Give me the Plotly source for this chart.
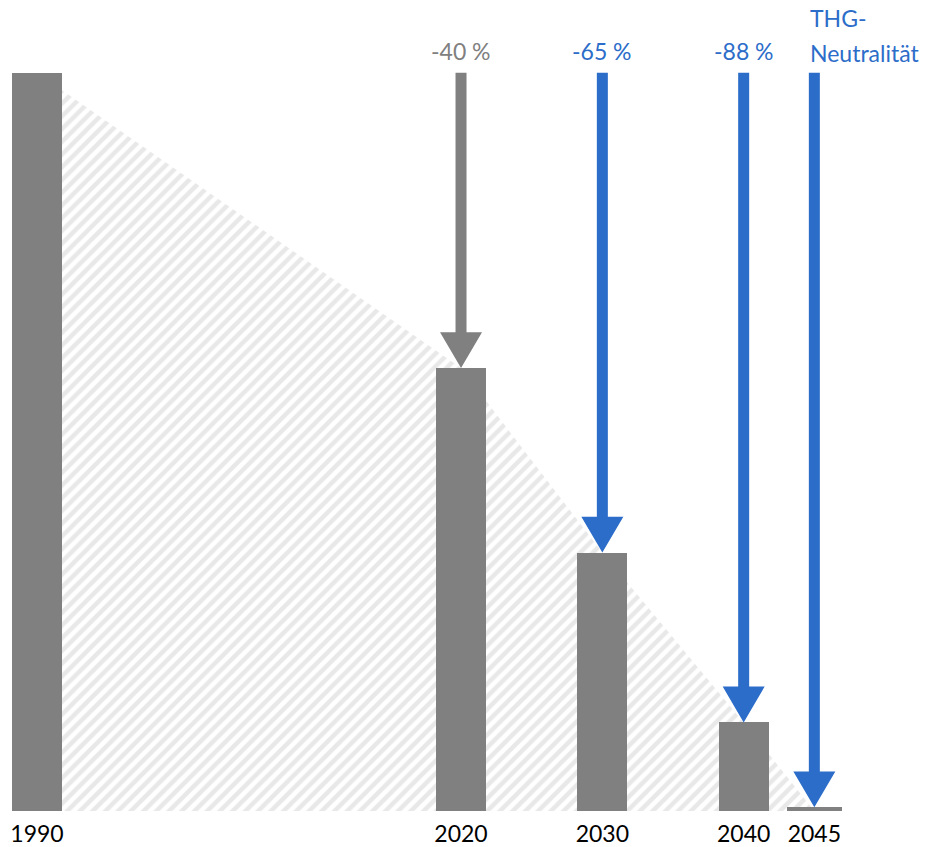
import plotly.graph_objects as go

# ---- data ----
years = [1990, 2020, 2030, 2040, 2045]
emissions = [100, 60, 35, 12, 0.5]          # % of 1990 level
tick_labels = ["1990", "2020", "2030", "2040", "2045"]
target_years = [2020, 2030, 2040, 2045]
target_values = [60, 35, 12, 0.5]
target_labels = ["-40 %", "-65 %", "-88 %", "THG-<br>Neutralität"]

# ---- style ----
GRAY = "#808080"
BLUE = "#2C6DC9"
target_colors = [GRAY, BLUE, BLUE, BLUE]
bar_widths = [3.54, 3.54, 3.54, 3.54, 3.9]
FONT = "Lato"

W, H = 925, 847
X0, X1 = 1987.38, 2052.83
Y0, Y1 = 0, 109.85
px_x = (X1 - X0) / W
plot_h = 814
px_y = (Y1 - Y0) / plot_h

shaft_hw = 5.5 * px_x
head_hw = 21 * px_x
head_h = 36 * px_y
top_level = emissions[0]

fig = go.Figure()

# hatched trend area (base subplot, drawn below bars)
hx = years + [years[-1], years[0], years[0]]
hy = emissions[:-1] + [0, 0, 0, emissions[0]]
fig.add_trace(go.Scatter(
    x=hx, y=hy, mode="lines", fill="toself", line=dict(width=0),
    fillcolor="rgba(0,0,0,0)",
    fillpattern=dict(shape="/", fgcolor="#d2d2d2", bgcolor="white", size=9, solidity=0.5),
    hoverinfo="skip", showlegend=False, xaxis="x", yaxis="y"))

# bars (overlay subplot)
fig.add_trace(go.Bar(
    x=years, y=emissions, width=bar_widths, marker=dict(color=GRAY, line=dict(width=0)),
    showlegend=False, xaxis="x2", yaxis="y2"))

# arrows
for yr, val, col in zip(target_years, target_values, target_colors):
    base = val + head_h
    ax = [yr - shaft_hw, yr + shaft_hw, yr + shaft_hw, yr + head_hw, yr, yr - head_hw, yr - shaft_hw, yr - shaft_hw]
    ay = [top_level, top_level, base, base, val, base, base, top_level]
    fig.add_trace(go.Scatter(
        x=ax, y=ay, mode="lines", fill="toself", fillcolor=col, line=dict(width=0, color=col),
        hoverinfo="skip", showlegend=False, xaxis="x2", yaxis="y2"))

annotations = []
LINE_GAP = 35
for yr, lab, col in zip(target_years, target_labels, target_colors):
    lines = lab.split("<br>")
    multi = len(lines) > 1
    for i, line in enumerate(lines):
        k = len(lines) - 1 - i
        annotations.append(dict(
            x=yr, y=top_level, xref="x2", yref="y2", text=line, showarrow=False,
            xanchor="left" if multi else "center", xshift=-6 if multi else 0,
            yanchor="bottom", yshift=(4 if multi else 6) + k * LINE_GAP, align="left",
            font=dict(family=FONT, size=23, color=col)))

axis_common = dict(range=[X0, X1], showgrid=False, zeroline=False, showline=False)
fig.update_layout(
    width=W, height=H,
    margin=dict(l=0, r=0, t=0, b=H - plot_h),
    plot_bgcolor="white", paper_bgcolor="white",
    xaxis=dict(**axis_common, tickvals=years, ticktext=tick_labels, ticks="",
               ticklabelstandoff=7,
               tickfont=dict(family=FONT, size=23, color="black")),
    yaxis=dict(range=[Y0, Y1], visible=False),
    xaxis2=dict(**axis_common, overlaying="x", visible=False),
    yaxis2=dict(range=[Y0, Y1], overlaying="y", visible=False),
    annotations=annotations,
    bargap=0,
)

fig.write_html("out.html", config={"displayModeBar": False},
               post_script="document.body.style.margin='0';document.body.style.overflow='hidden';")
